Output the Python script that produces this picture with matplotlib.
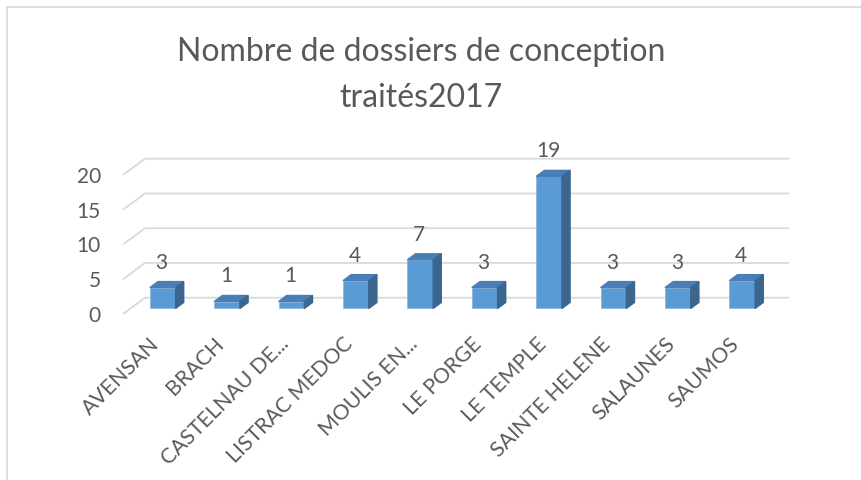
import matplotlib.pyplot as plt
from matplotlib.patches import Polygon
from matplotlib.lines import Line2D

plt.rcParams['font.family'] = ['Lato', 'DejaVu Sans']

communes = ['AVENSAN', 'BRACH', 'CASTELNAU DE...', 'LISTRAC MEDOC', 'MOULIS EN...',
            'LE PORGE', 'LE TEMPLE', 'SAINTE HELENE', 'SALAUNES', 'SAUMOS']
dossiers = [3, 1, 1, 4, 7, 3, 19, 3, 3, 4]
y_ticks = [0, 5, 10, 15, 20]
title = 'Nombre de dossiers de conception\ntraités2017'

TXT = '#595959'
GRID = '#d9d9d9'
FRONT = '#5b9bd5'
TOP = '#4a7fb5'
SIDE = '#3b6690'

# oblique "3d" offsets, in data units (category / value)
DX, DY = 0.342, 2.345
F0, F1 = 0.34, 0.71   # bar front / back depth as fraction of floor depth
W = 0.40

fig = plt.figure(figsize=(8.62, 4.8), dpi=100)
ax = fig.add_axes([123 / 862, 166 / 480, 666 / 862, 155.3 / 480])
ax.set_xlim(-0.5, len(communes) - 0.5 + DX)
ax.set_ylim(0, y_ticks[-1] + DY)
for s in ax.spines.values():
    s.set_visible(False)
ax.set_xticks([])
ax.set_yticks(y_ticks)
ax.set_yticklabels([str(t) for t in y_ticks], fontsize=15, color=TXT)
ax.tick_params(axis='y', length=0, pad=16)

# back wall gridlines + diagonal connectors
x0, x1 = -0.5, len(communes) - 0.5
for t in y_ticks:
    ax.plot([x0, x0 + DX, x1 + DX], [t, t + DY, t + DY], color=GRID, lw=1.3,
            clip_on=False, zorder=1, solid_capstyle='butt')

# bars
for i, h in enumerate(dossiers):
    xl = i - W / 2 + F0 * DX
    xr = i + W / 2 + F0 * DX
    yb = F0 * DY
    ddx = (F1 - F0) * DX
    ddy = (F1 - F0) * DY
    ax.bar(i + F0 * DX, h, width=W, bottom=yb, color=FRONT, zorder=3,
           edgecolor='#7db0e0', linewidth=0.4)
    ax.add_patch(Polygon([(xl, yb + h), (xr, yb + h), (xr + ddx, yb + h + ddy),
                          (xl + ddx, yb + h + ddy)], closed=True, color=TOP,
                         zorder=3, clip_on=False))
    ax.add_patch(Polygon([(xr, yb), (xr + ddx, yb + ddy), (xr + ddx, yb + h + ddy),
                          (xr, yb + h)], closed=True, color=SIDE,
                         zorder=3, clip_on=False))
    ax.annotate(str(h), xy=(i + F0 * DX, h + F1 * DY), xytext=(-1, 19),
                textcoords='offset pixels', ha='center', va='center',
                fontsize=15, color=TXT, annotation_clip=False)
    ax.annotate(communes[i], xy=(i + F0 * DX, 0), xytext=(1, -20),
                textcoords='offset pixels', ha='right', va='top', rotation=45,
                fontsize=15.3, color=TXT, annotation_clip=False)

fig.text(421 / 862, 1 - 75 / 480, title, ha='center', va='center',
         fontsize=23, color=TXT, linespacing=1.7)

# chart frame (top and left edges visible)
fig.add_artist(Line2D([7.5 / 862, 1], [1 - 6.5 / 480] * 2, color=GRID, lw=1.2))
fig.add_artist(Line2D([7.5 / 862] * 2, [0, 1 - 6.5 / 480], color=GRID, lw=1.2))

fig.savefig('out.png', dpi=100)
